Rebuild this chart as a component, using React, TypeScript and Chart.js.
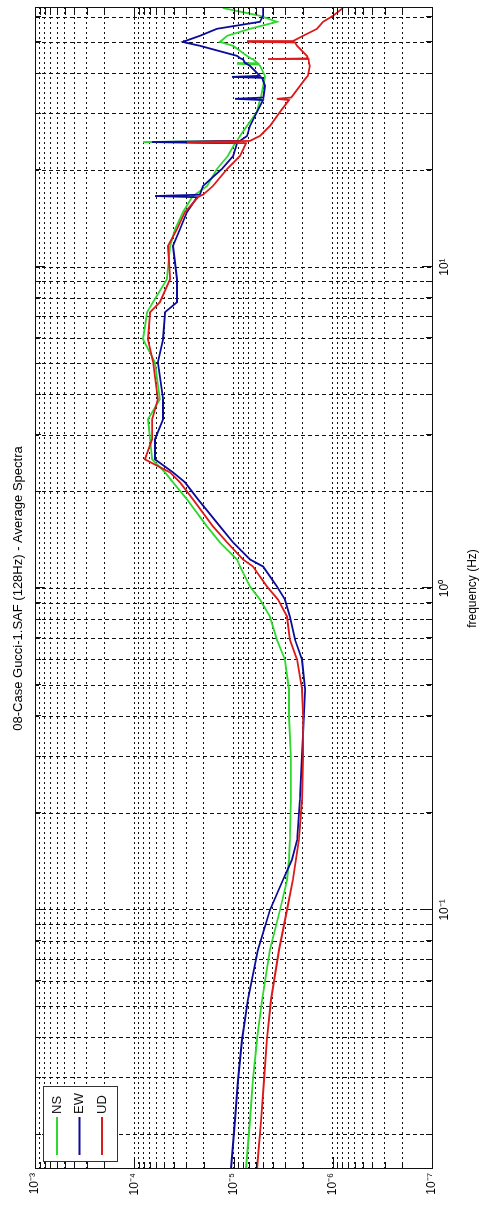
import { useEffect, useRef } from 'react';
import { Chart, registerables } from 'chart.js';

Chart.register(...registerables);

const W = 1213;
const H = 486;
const FONT = '"Liberation Sans", Arial, sans-serif';

// frequency samples (Hz)
const freqHz = [
  0.015625, 0.0222, 0.0295, 0.0394, 0.0525, 0.075, 0.1, 0.124, 0.143, 0.165,
  0.22, 0.3, 0.4, 0.485, 0.6, 0.693, 0.818, 0.924, 1.014, 1.171,
  1.231, 1.391, 1.56, 1.894, 2.139, 2.298, 2.523, 2.912, 3.361, 3.879,
  5.058, 5.967, 7.24, 7.78, 9.174, 11.63, 13.13, 14.84, 16.5, 16.64,
  16.8, 17.88, 20.2, 22.17, 24.3, 24.5, 24.7, 25.59, 27.5, 30.4,
  33.1, 33.38, 33.7, 36.64, 38.8, 39.07, 39.36, 42.29, 42.7, 42.9,
  43.1, 44.2, 44.4, 44.6, 45.42, 48.81, 50.0, 50.22, 50.5, 52.44,
  55.14, 57.97, 60.52, 64,
];

const nsAmp = [
  7.48e-6, 6.82e-6, 6.37e-6, 5.8e-6, 5.16e-6, 4.29e-6, 3.4e-6, 2.89e-6, 2.76e-6, 2.7e-6,
  2.64e-6, 2.64e-6, 2.76e-6, 2.76e-6, 3.03e-6, 3.65e-6, 4.29e-6, 5.41e-6, 6.82e-6, 8.61e-6,
  9.22e-6, 1.37e-5, 1.85e-5, 2.94e-5, 4.07e-5, 4.9e-5, 6.62e-5, 6.93e-5, 7.27e-5, 5.51e-5,
  6.18e-5, 8.16e-5, 7.44e-5, 6.47e-5, 4.68e-5, 4.36e-5, 3.88e-5, 3.23e-5, 2.62e-5, 2.56e-5,
  2.44e-5, 1.85e-5, 1.47e-5, 1.14e-5, 9.66e-6, 8.16e-5, 9.22e-6, 8.61e-6, 7.31e-6, 5.8e-6,
  5.41e-6, 5.41e-6, 5.3e-6, 5.04e-6, 4.82e-6, 4.82e-6, 4.82e-6, 5.41e-6, 5.6e-6, 9.22e-6,
  5.7e-6, 6.3e-6, 6.5e-6, 6.7e-6, 7.31e-6, 1.01e-5, 1.31e-5, 1.37e-5, 1.34e-5, 1.16e-5,
  6.82e-6, 3.65e-6, 5.41e-6, 1.28e-5,
];

const ewAmp = [
  1.06e-5, 9.66e-6, 9.01e-6, 8.21e-6, 7.15e-6, 5.67e-6, 4.29e-6, 3.17e-6, 2.58e-6, 2.29e-6,
  2.14e-6, 2.04e-6, 1.95e-6, 1.9e-6, 2.04e-6, 2.4e-6, 2.7e-6, 3.03e-6, 3.65e-6, 5.04e-6,
  6.82e-6, 1.01e-5, 1.37e-5, 2.28e-5, 3.08e-5, 4.07e-5, 6.18e-5, 6.18e-5, 5.13e-5, 5.13e-5,
  5.77e-5, 5.13e-5, 4.9e-5, 3.71e-5, 3.71e-5, 4.07e-5, 3.46e-5, 2.94e-5, 2.33e-5, 6.18e-5,
  2.18e-5, 2.03e-5, 1.31e-5, 1.01e-5, 9.22e-6, 6.62e-5, 8.61e-6, 7.31e-6, 6.82e-6, 5.8e-6,
  5.04e-6, 9.66e-6, 5.0e-6, 4.82e-6, 5.16e-6, 1.035e-5, 5.41e-6, 6.82e-6, 7.2e-6, 7.4e-6,
  7.6e-6, 8.0e-6, 8.2e-6, 8.5e-6, 9.22e-6, 2.18e-5, 3.08e-5, 3.23e-5, 3.08e-5, 2.18e-5,
  1.47e-5, 5.41e-6, 5.04e-6, 5.04e-6,
];

const udAmp = [
  5.8e-6, 5.28e-6, 4.93e-6, 4.6e-6, 4.19e-6, 3.48e-6, 2.89e-6, 2.52e-6, 2.35e-6, 2.19e-6,
  2.04e-6, 1.99e-6, 1.99e-6, 2.04e-6, 2.29e-6, 2.7e-6, 2.89e-6, 3.56e-6, 4.6e-6, 6.37e-6,
  8.02e-6, 1.16e-5, 1.61e-5, 2.56e-5, 3.46e-5, 4.36e-5, 7.8e-5, 6.62e-5, 6.62e-5, 5.77e-5,
  6.47e-5, 7.27e-5, 6.93e-5, 5.51e-5, 4.36e-5, 4.57e-5, 3.71e-5, 3.08e-5, 2.28e-5, 2.18e-5,
  2.03e-5, 1.61e-5, 1.16e-5, 8.61e-6, 7.48e-6, 2.94e-5, 6.82e-6, 5.41e-6, 4.29e-6, 3.4e-6,
  2.76e-6, 3.65e-6, 2.62e-6, 2.14e-6, 1.86e-6, 1.82e-6, 1.78e-6, 1.7e-6, 1.72e-6, 1.73e-6,
  1.74e-6, 1.75e-6, 4.49e-6, 1.78e-6, 1.82e-6, 2.29e-6, 2.4e-6, 7.31e-6, 2.52e-6, 1.99e-6,
  1.44e-6, 1.25e-6, 9.94e-7, 7.88e-7,
];

const seriesNames = ['NS', 'EW', 'UD'];
const seriesColors = ['#2fd82f', '#0b0b9c', '#dc1a1a'];
const seriesValues = [nsAmp, ewAmp, udAmp];

const titleText = '08-Case Gucci-1.SAF (128Hz) - Average Spectra';
const xAxisTitle = 'frequency (Hz)';

const freqRange = [1 / 64, 64];
const ampRange = [1e-7, 1e-3];
const freqDecades = [-2, -1, 0, 1];
const ampDecades = [-7, -6, -5, -4, -3];
const freqMajorValues = [0.1, 1, 10];
const freqMajorLabels = ['10⁻¹', '10⁰', '10¹'];
const ampMajorValues = [1e-7, 1e-6, 1e-5, 1e-4, 1e-3];
const ampMajorLabels = ['10⁻⁷', '10⁻⁶', '10⁻⁵', '10⁻⁴', '10⁻³'];
const tickMultipliers = [1, 2, 3, 4, 5, 6, 7, 8, 9];

function buildTicks(decades: number[], range: number[]) {
  const out: number[] = [];
  for (const d of decades) {
    for (const m of tickMultipliers) {
      const v = Number((m * Math.pow(10, d)).toPrecision(6));
      if (v >= range[0] * 0.9999 && v <= range[1] * 1.0001) out.push(v);
    }
  }
  return out;
}

const near = (a: number, b: number) => Math.abs(a - b) <= Math.abs(b) * 1e-6;
const labelFor = (v: number, vals: number[], labels: string[]) => {
  const i = vals.findIndex((m) => near(v, m));
  return i >= 0 ? labels[i] : '';
};

const freqTicks = buildTicks(freqDecades, freqRange);
const ampTicks = buildTicks(ampDecades, ampRange);

const framePlugin = {
  id: 'matlabFrame',
  afterDraw(chart: any) {
    const { ctx, chartArea: a } = chart;
    const xs = chart.scales.x;
    const ys = chart.scales.y;
    ctx.save();
    ctx.setLineDash([]);
    ctx.strokeStyle = '#111';
    ctx.lineWidth = 1;
    ctx.beginPath();
    for (const v of freqTicks) {
      const px = Math.round(xs.getPixelForValue(v)) + 0.5;
      const len = freqMajorValues.some((m) => near(v, m)) ? 10 : 6;
      ctx.moveTo(px, a.top);
      ctx.lineTo(px, a.top + len);
      ctx.moveTo(px, a.bottom);
      ctx.lineTo(px, a.bottom - len);
    }
    for (const v of ampTicks) {
      const py = Math.round(ys.getPixelForValue(v)) + 0.5;
      const len = ampMajorValues.some((m) => near(v, m)) ? 12 : 7;
      ctx.moveTo(a.left, py);
      ctx.lineTo(a.left + len, py);
      ctx.moveTo(a.right, py);
      ctx.lineTo(a.right - len, py);
    }
    ctx.stroke();
    ctx.strokeRect(Math.round(a.left) + 0.5, Math.round(a.top) + 0.5, Math.round(a.right - a.left), Math.round(a.bottom - a.top));

    // title
    ctx.fillStyle = '#000';
    ctx.font = `13px ${FONT}`;
    ctx.textAlign = 'center';
    ctx.textBaseline = 'middle';
    ctx.fillText(titleText, (a.left + a.right) / 2, 18);

    // legend
    const lx = a.left + 7;
    const ly = a.top + 8;
    const lw = 75;
    const lh = 74;
    ctx.fillStyle = '#fff';
    ctx.fillRect(lx, ly, lw, lh);
    ctx.strokeStyle = '#333';
    ctx.strokeRect(Math.round(lx) + 0.5, Math.round(ly) + 0.5, lw, lh);
    ctx.font = `13px ${FONT}`;
    ctx.textAlign = 'left';
    seriesNames.forEach((name, k) => {
      const yy = ly + 14 + k * 22.5;
      ctx.strokeStyle = seriesColors[k];
      ctx.lineWidth = 2;
      ctx.beginPath();
      ctx.moveTo(lx + 7, yy);
      ctx.lineTo(lx + 45, yy);
      ctx.stroke();
      ctx.fillStyle = '#111';
      ctx.fillText(name, lx + 48, yy);
    });
    ctx.restore();
  },
};

export default function App() {
  const ref = useRef<HTMLCanvasElement | null>(null);

  useEffect(() => {
    const canvas = ref.current;
    if (!canvas) return;
    const chart = new Chart(canvas, {
      type: 'line',
      data: {
        datasets: seriesNames.map((name, k) => ({
          label: name,
          data: freqHz.map((f, i) => ({ x: f, y: seriesValues[k][i] })),
          borderColor: seriesColors[k],
          backgroundColor: seriesColors[k],
          borderWidth: 1.8,
          pointRadius: 0,
          fill: false,
          tension: 0,
          order: 3 - k,
        })),
      },
      options: {
        responsive: false,
        animation: false,
        devicePixelRatio: 1,
        layout: { padding: { top: 35, right: 8, left: 0, bottom: 0 } },
        plugins: {
          legend: { display: false },
          tooltip: { enabled: false },
          title: { display: false },
        },
        scales: {
          x: {
            type: 'logarithmic',
            min: freqRange[0],
            max: freqRange[1],
            afterBuildTicks: (s: any) => {
              s.ticks = freqTicks.map((v) => ({ value: v }));
            },
            afterFit: (s: any) => {
              s.height = 54;
            },
            ticks: {
              autoSkip: false,
              maxRotation: 0,
              minRotation: 0,
              padding: 5,
              color: '#000',
              font: { family: FONT, size: 12 },
              callback: (v: any) => labelFor(Number(v), freqMajorValues, freqMajorLabels),
            },
            grid: { color: '#111', lineWidth: 1, drawTicks: false },
            border: { display: false, dash: [4, 3] },
            title: {
              display: true,
              text: xAxisTitle,
              color: '#000',
              font: { family: FONT, size: 12 },
              padding: { top: 0, bottom: 6 },
            },
          },
          y: {
            type: 'logarithmic',
            min: ampRange[0],
            max: ampRange[1],
            afterBuildTicks: (s: any) => {
              s.ticks = ampTicks.map((v) => ({ value: v }));
            },
            afterFit: (s: any) => {
              s.width = 44;
            },
            ticks: {
              autoSkip: false,
              padding: 4,
              color: '#000',
              font: { family: FONT, size: 12 },
              callback: (v: any) => labelFor(Number(v), ampMajorValues, ampMajorLabels),
            },
            grid: { color: '#111', lineWidth: 1, drawTicks: false },
            border: { display: false, dash: [2, 3] },
          },
        },
      },
      plugins: [framePlugin],
    } as any);
    return () => chart.destroy();
  }, []);

  return (
    <div
      style={{
        position: 'absolute',
        left: 0,
        top: 0,
        width: H,
        height: W,
        overflow: 'hidden',
        background: '#fff',
      }}
    >
      <canvas
        ref={ref}
        width={W}
        height={H}
        style={{
          position: 'absolute',
          left: 0,
          top: 0,
          width: W,
          height: H,
          transformOrigin: '0 0',
          transform: `translateY(${W}px) rotate(-90deg)`,
        }}
      />
    </div>
  );
}
